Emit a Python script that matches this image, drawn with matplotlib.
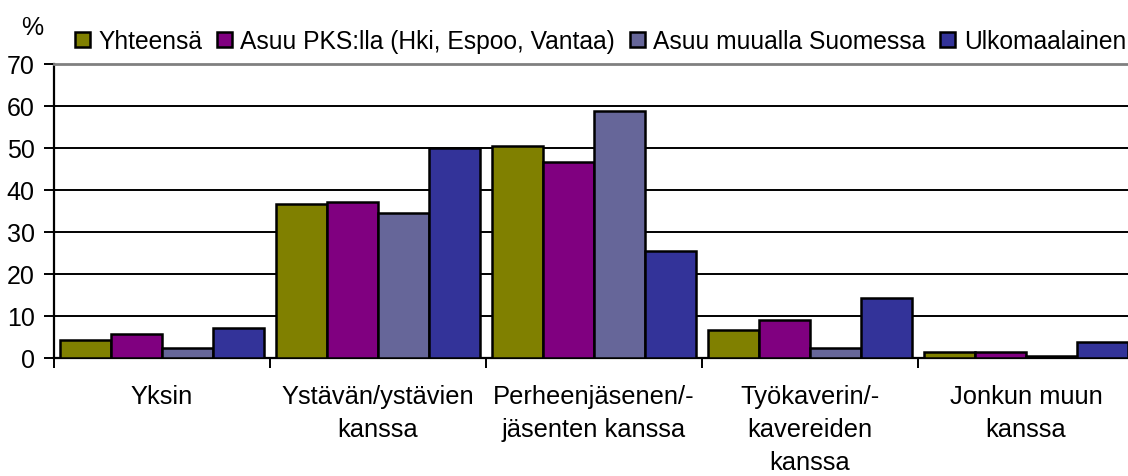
import matplotlib.pyplot as plt
import numpy as np

plt.rcParams['font.family'] = ['Liberation Sans', 'DejaVu Sans']

categories = ["Yksin", "Ystävän/ystävien\nkanssa", "Perheenjäsenen/-\njäsenten kanssa",
              "Työkaverin/-\nkavereiden\nkanssa", "Jonkun muun\nkanssa"]
series_names = ["Yhteensä", "Asuu PKS:lla (Hki, Espoo, Vantaa)",
                "Asuu muualla Suomessa", "Ulkomaalainen"]
yhteensa = [4.2, 36.7, 50.5, 6.6, 1.3]
pks = [5.7, 37.1, 46.7, 9.0, 1.3]
muualla = [2.2, 34.4, 58.9, 2.2, 0.4]
ulkomaalainen = [7.1, 50.0, 25.3, 14.3, 3.7]
colors = ["#808000", "#800080", "#666699", "#333399"]

fig = plt.figure(figsize=(11.28, 4.77), dpi=100)
ax = fig.add_axes([54/1128, 118.5/477, 1080/1128, 293.5/477])

x = np.arange(len(categories))
width = 0.236
series = [yhteensa, pks, muualla, ulkomaalainen]
for i, vals in enumerate(series):
    ax.bar(x + (i - 1.5) * width, vals, width, color=colors[i], edgecolor="black",
           linewidth=1.8, label=series_names[i], zorder=3)

ax.set_xlim(-0.5, len(categories) - 0.5)
ax.set_ylim(0, 70)
ax.set_yticks(range(0, 71, 10))
ax.yaxis.grid(True, color="black", linewidth=1.4, zorder=0)
ax.tick_params(axis="y", direction="out", length=7, width=1.4, labelsize=18, pad=7)

# boundaries as major ticks, labels on minor ticks
ax.set_xticks(np.arange(-0.5, len(categories), 1.0))
ax.set_xticklabels([])
ax.tick_params(axis="x", which="major", direction="out", length=7, width=1.4)
ax.set_xticks(x, minor=True)
ax.set_xticklabels(categories, minor=True, fontsize=18.4, linespacing=1.48)
ax.tick_params(axis="x", which="minor", length=0, pad=19)

ax.spines["left"].set_linewidth(1.6)
ax.spines["bottom"].set_linewidth(1.6)
ax.spines["top"].set_color("#808080")
ax.spines["top"].set_linewidth(2)
ax.spines["right"].set_visible(False)

fig.text(21/1128, 1 - 28/477, "%", fontsize=18, va="center")

ax.legend(loc="lower left", bbox_to_anchor=(75/1128, 1 - 54/477), bbox_transform=fig.transFigure,
          ncol=4, frameon=False, fontsize=17.7, handlelength=0.6, handleheight=0.6,
          handletextpad=0.35, columnspacing=0.6, borderaxespad=0, borderpad=0)

fig.savefig("out.png", dpi=100)
